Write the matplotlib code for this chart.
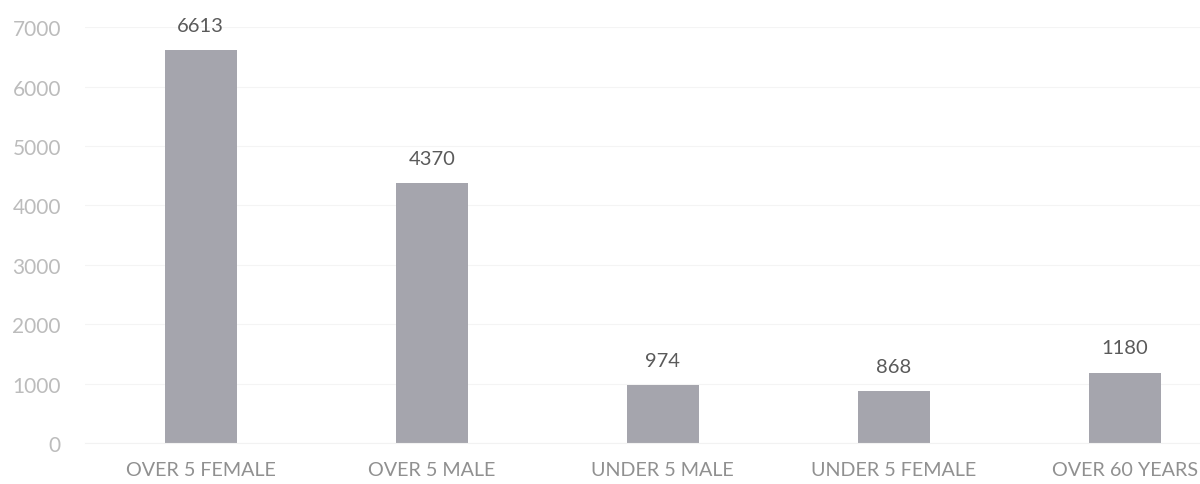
import matplotlib.pyplot as plt

# DATA
categorias = ["OVER 5 FEMALE", "OVER 5 MALE", "UNDER 5 MALE", "UNDER 5 FEMALE", "OVER 60 YEARS"]
valores = [6613, 4370, 974, 868, 1180]
y_ticks = [0, 1000, 2000, 3000, 4000, 5000, 6000, 7000]

plt.rcParams['font.family'] = ['Lato', 'DejaVu Sans']

fig = plt.figure(figsize=(12, 4.85), dpi=100)
ax = fig.add_axes([0.071, 0.0845, 0.929, 0.8575])

x = range(len(categorias))
ax.bar(x, valores, width=0.31, color="#a5a5ad", zorder=2)

for xi, v in zip(x, valores):
    ax.annotate(str(v), (xi, v), xytext=(0, 18), textcoords="offset points",
                ha="center", va="center", fontsize=14.5, color="#5a5a5a")

ax.set_xlim(-0.5, 4.325)
ax.set_ylim(0, 7000)
ax.set_yticks(y_ticks)
ax.set_xticks(list(x))
ax.set_xticklabels(categorias)

ax.grid(axis="y", color="#f4f4f4", linewidth=0.8, zorder=0)
for s in ["top", "right", "left"]:
    ax.spines[s].set_visible(False)
ax.spines["bottom"].set_color("#f2f2f2")

ax.tick_params(axis="y", length=0, pad=17.5, labelsize=15, labelcolor="#bcbcbc")
ax.tick_params(axis="x", length=0, pad=13, labelsize=14.2, labelcolor="#909090")

plt.savefig("out.png", dpi=100)
plt.close()
